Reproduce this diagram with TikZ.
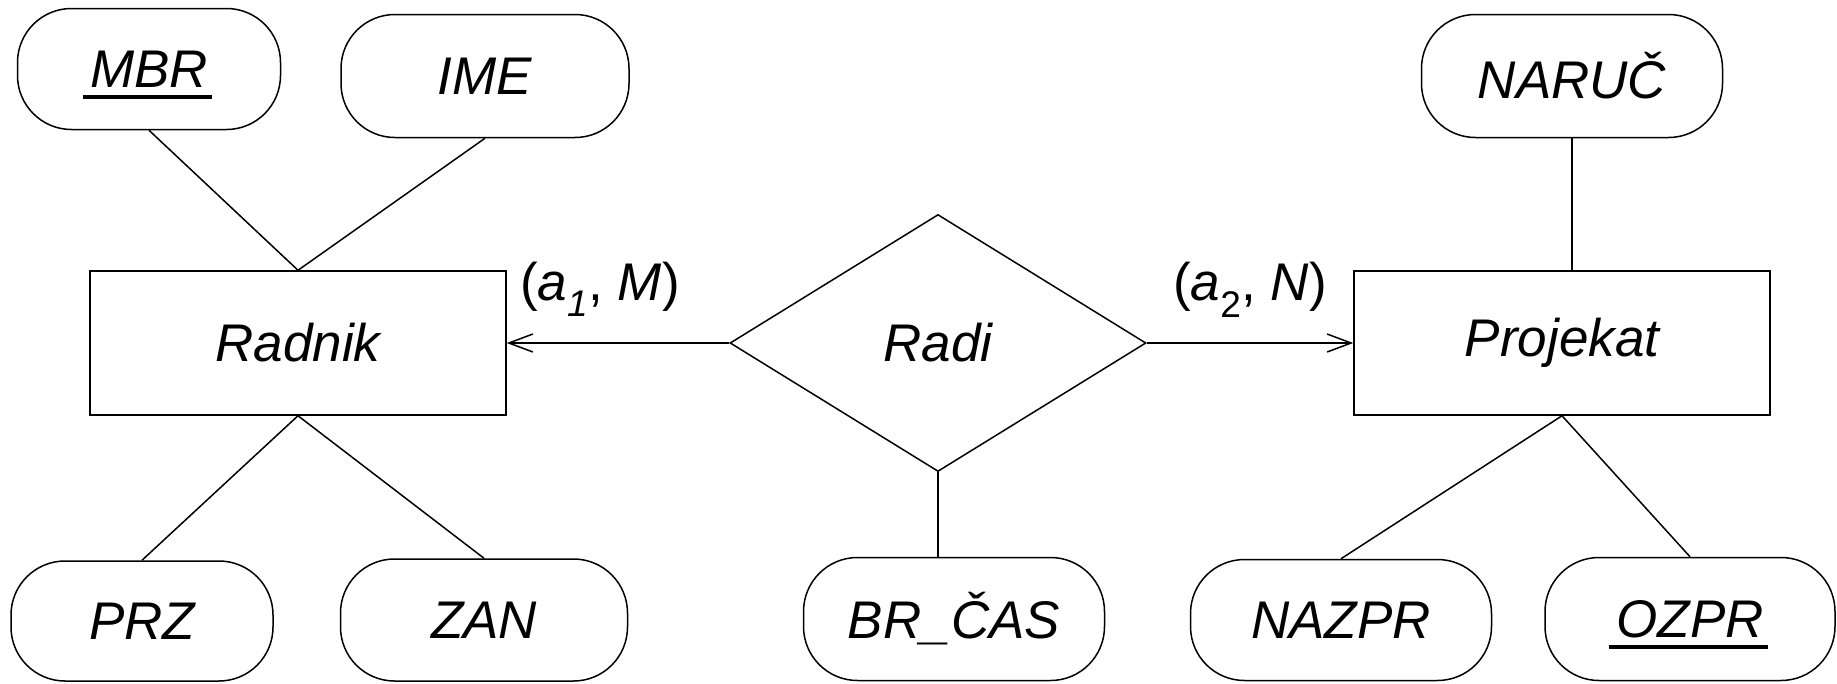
\documentclass[tikz,border=0pt]{standalone}
\usepackage{fontspec}
\setmainfont{Liberation Sans}
\usetikzlibrary{shapes.geometric,arrows.meta}
\newbox\keybox
\newcommand{\keyul}[1]{\setbox\keybox\hbox{#1}\smash{\rlap{\kern-7pt\vrule height -8pt depth 11.5pt width \dimexpr\wd\keybox+11pt\relax}}\box\keybox}
\tikzset{
  txt/.style={font=\fontsize{53}{62}\selectfont\itshape},
  attr/.style={txt, draw, line width=1.5pt, rounded corners=54pt, inner sep=0pt},
  entity/.style={txt, draw, line width=1.5pt, minimum width=416pt, minimum height=144pt, inner sep=0pt},
  rel/.style={txt, draw, line width=1.5pt, diamond, minimum width=416pt, minimum height=257pt, inner sep=0pt},
  conn/.style={line width=1.5pt},
  arr/.style={line width=1.5pt, -{Straight Barb[length=24pt,width=18pt,line width=1.5pt]}},
  lab/.style={font=\fontsize{53}{62}\selectfont, anchor=base, inner sep=0pt}
}
\begin{document}
\begin{tikzpicture}[x=1pt,y=-1pt]
\useasboundingbox (0,0) rectangle (1837,683);
\node[entity] (radnik) at (298,343) {Radnik};
\node[entity] (projekat) at (1562,343) {Projekat};
\node[rel] (radi) at (938,343) {Radi};
\node[attr, minimum width=263pt, minimum height=121pt] (mbr) at (149,69) {\keyul{MBR}};
\node[attr, minimum width=288pt, minimum height=123pt] (ime) at (485,76) {IME};
\node[attr, minimum width=262pt, minimum height=120pt] (prz) at (142,621) {PRZ};
\node[attr, minimum width=287pt, minimum height=122pt] (zan) at (484,620) {ZAN};
\node[attr, minimum width=301pt, minimum height=123pt] (brcas) at (954,619) {BR\_ČAS};
\node[attr, minimum width=301pt, minimum height=123pt] (naruc) at (1572,76) {NARUČ};
\node[attr, minimum width=301pt, minimum height=121pt] (nazpr) at (1341,620) {NAZPR};
\node[attr, minimum width=290pt, minimum height=123pt] (ozpr) at (1690,619) {\keyul{OZPR}};
\node[lab] (l1) at (600,300) {(\textit{a}\textsubscript{\textit{1}}, \textit{M})};
\node[lab] (l2) at (1250,300) {(\textit{a}\textsubscript{2}, \textit{N})};
\draw[conn] (mbr.south) -- (radnik.north);
\draw[conn] (ime.south) -- (radnik.north);
\draw[conn] (prz.north) -- (radnik.south);
\draw[conn] (zan.north) -- (radnik.south);
\draw[conn] (naruc.south) -- (naruc.south |- projekat.north);
\draw[conn] (nazpr.north) -- (projekat.south);
\draw[conn] (ozpr.north) -- (projekat.south);
\draw[conn] (radi.south) -- (radi.south |- brcas.north);
\draw[arr] (radi.west) -- (radnik.east);
\draw[arr] (radi.east) -- (projekat.west);
\end{tikzpicture}
\end{document}
